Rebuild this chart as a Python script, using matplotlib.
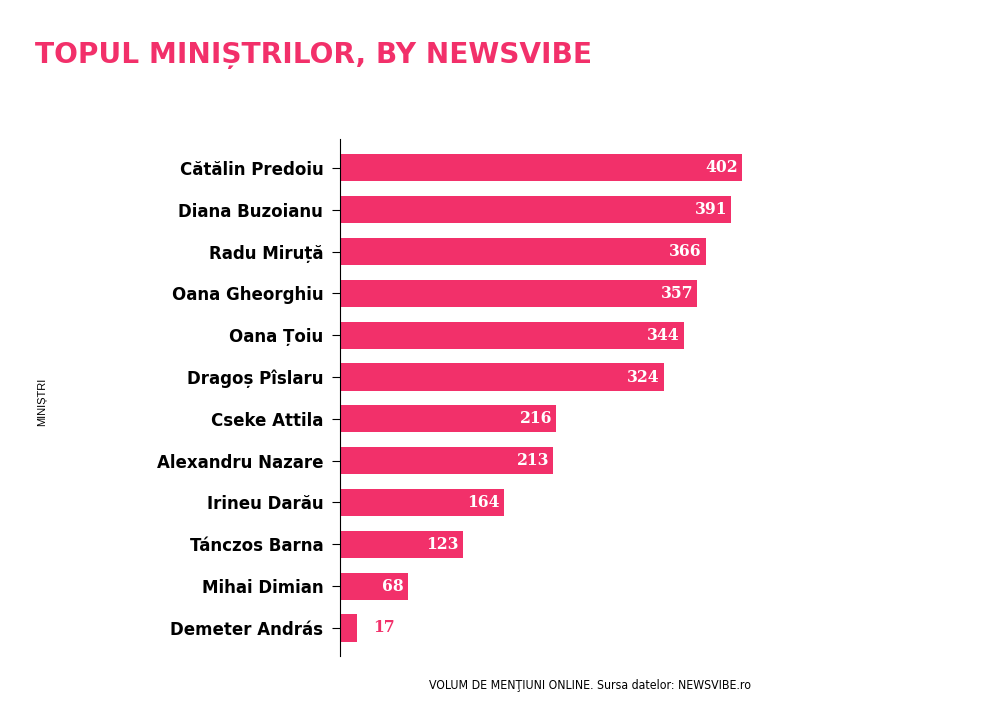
import matplotlib.pyplot as plt

names = ["Cătălin Predoiu", "Diana Buzoianu", "Radu Miruță", "Oana Gheorghiu",
         "Oana Țoiu", "Dragoș Pîslaru", "Cseke Attila", "Alexandru Nazare",
         "Irineu Darău", "Tánczos Barna", "Mihai Dimian", "Demeter András"]
mentions = [402, 391, 366, 357, 344, 324, 216, 213, 164, 123, 68, 17]

pink = "#F2306A"

fig = plt.figure(figsize=(9.92, 7.06), dpi=100)
# axes in pixel terms: x 340..940, y 139..656 (from top)
ax = fig.add_axes([340 / 992, 1 - 656 / 706, 600 / 992, 517 / 706])

pos = list(range(len(names)))
bars = ax.barh(pos, mentions, height=0.65, color=pink)
ax.set_xlim(0, 600)
ax.set_ylim(11.67, -0.69)

for b, v in zip(bars, mentions):
    y = b.get_y() + b.get_height() / 2
    if v > 40:
        ax.text(v - 4, y, str(v), ha="right", va="center", color="white",
                fontsize=12.5, fontweight="bold", family="DejaVu Serif", fontstretch="condensed")
    else:
        ax.text(v + 16, y, str(v), ha="left", va="center", color=pink,
                fontsize=12.5, fontweight="bold", family="DejaVu Serif", fontstretch="condensed")

ax.set_yticks(pos)
ax.set_yticklabels(names, fontsize=12, fontweight="bold")
ax.tick_params(axis="y", length=6, width=0.8, pad=6)
ax.set_xticks([])
for s in ["top", "right", "bottom"]:
    ax.spines[s].set_visible(False)
ax.spines["left"].set_linewidth(0.8)

fig.text(42 / 992, 1 - 402 / 706, "MINIȘTRI", rotation=90, ha="center", va="center",
         fontsize=8, family="Liberation Sans")
fig.text(35 / 992, 1 - 55 / 706, "TOPUL MINIȘTRILOR, BY NEWSVIBE", ha="left", va="center",
         fontsize=20.2, fontweight="bold", color=pink)
fig.text(590 / 992, 1 - 686 / 706, "VOLUM DE MENŢIUNI ONLINE. Sursa datelor: NEWSVIBE.ro",
         ha="center", va="center", fontsize=8.8, family="DejaVu Sans", fontstretch="condensed")

fig.savefig("out.png", dpi=100)
